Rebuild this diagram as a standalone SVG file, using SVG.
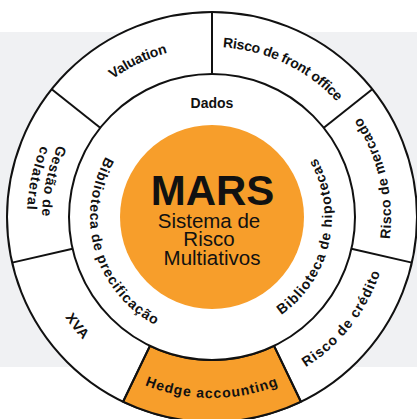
<svg xmlns="http://www.w3.org/2000/svg" xmlns:xlink="http://www.w3.org/1999/xlink" width="417" height="419" viewBox="0 0 417 419">
  <style>
    .ring { fill: #ffffff; stroke: #111111; stroke-width: 2; }
    .sep { stroke: #111111; stroke-width: 2; fill: none; }
    .lbl { font-family: "Liberation Sans", Arial, sans-serif; font-weight: bold; font-size: 14px; fill: #111111; }
    .sub { font-family: "Liberation Sans", Arial, sans-serif; font-size: 20.5px; fill: #111111; text-anchor: middle; }
    .orange { fill: #f79e2b; }
  </style>
  <defs>
    <path id="pValuation" d="M 47.41 174.44 A 170 170 0 0 1 282.50 62.31"/>
    <path id="pFront" d="M 141.23 62.43 A 170 170 0 0 1 376.51 174.15"/>
    <path id="pMercado" d="M 355.89 323.47 A 179 179 0 0 0 291.87 56.81"/>
    <path id="pCredito" d="M 218.18 393.89 A 177 177 0 0 0 385.13 180.20"/>
    <path id="pHedge" d="M 73.35 333.34 A 181 181 0 0 0 350.65 333.34"/>
    <path id="pXVA" d="M 34.03 213.89 A 178 178 0 0 0 178.04 391.73"/>
    <path id="pGestao" d="M 108.75 81.95 A 170 170 0 0 0 61.07 295.23"/>
    <path id="pColateral" d="M 99.12 70.43 A 185 185 0 0 0 48.05 302.71"/>
    <path id="pPrecif" d="M 157.56 107.82 A 122 122 0 0 0 225.81 338.22"/>
    <path id="pHipot" d="M 206.97 336.89 A 120 120 0 0 0 257.73 106.05"/>
  </defs>

  <rect x="0" y="32" width="417" height="335" fill="#f0f1f3"/>

  <circle class="ring" cx="212" cy="217" r="205"/>

  <g id="hedge-accounting">
    <path class="orange" stroke="#111111" stroke-width="2" d="M 300.95 401.70 A 205 205 0 0 1 123.05 401.70 L 149.96 345.84 A 143 143 0 0 0 274.04 345.84 Z"/>
    <text class="lbl"><textPath href="#pHedge" xlink:href="#pHedge" startOffset="50%" text-anchor="middle" letter-spacing="1">Hedge accounting</textPath></text>
  </g>

  <g id="separators">
    <line class="sep" x1="212" y1="74" x2="212" y2="12"/>
    <line class="sep" x1="323.80" y1="127.84" x2="372.28" y2="89.18"/>
    <line class="sep" x1="351.41" y1="248.82" x2="411.86" y2="262.62"/>
    <line class="sep" x1="274.04" y1="345.84" x2="300.95" y2="401.70"/>
    <line class="sep" x1="149.96" y1="345.84" x2="123.05" y2="401.70"/>
    <line class="sep" x1="72.59" y1="248.82" x2="12.14" y2="262.62"/>
    <line class="sep" x1="100.20" y1="127.84" x2="51.72" y2="89.18"/>
  </g>

  <circle class="ring" cx="212" cy="217" r="143"/>

  <g id="valuation">
    <text class="lbl"><textPath href="#pValuation" xlink:href="#pValuation" startOffset="50%" text-anchor="middle" letter-spacing="-0.2">Valuation</textPath></text>
  </g>
  <g id="risco-front-office">
    <text class="lbl"><textPath href="#pFront" xlink:href="#pFront" startOffset="50%" text-anchor="middle" letter-spacing="-0.3">Risco de front office</textPath></text>
  </g>
  <g id="risco-mercado">
    <text class="lbl"><textPath href="#pMercado" xlink:href="#pMercado" startOffset="50%" text-anchor="middle" letter-spacing="0.5">Risco de mercado</textPath></text>
  </g>
  <g id="risco-credito">
    <text class="lbl"><textPath href="#pCredito" xlink:href="#pCredito" startOffset="50%" text-anchor="middle" letter-spacing="0.9">Risco de crédito</textPath></text>
  </g>
  <g id="xva">
    <text class="lbl"><textPath href="#pXVA" xlink:href="#pXVA" startOffset="50%" text-anchor="middle" letter-spacing="0.5">XVA</textPath></text>
  </g>
  <g id="gestao-colateral">
    <text class="lbl"><textPath href="#pGestao" xlink:href="#pGestao" startOffset="50%" text-anchor="middle" letter-spacing="0.7">Gestão de</textPath></text>
    <text class="lbl"><textPath href="#pColateral" xlink:href="#pColateral" startOffset="50%" text-anchor="middle" letter-spacing="1">colateral</textPath></text>
  </g>

  <g id="dados">
    <text class="lbl" x="212" y="107.5" text-anchor="middle" font-size="14">Dados</text>
  </g>
  <g id="biblioteca-precificacao">
    <text class="lbl"><textPath href="#pPrecif" xlink:href="#pPrecif" startOffset="50%" text-anchor="middle" letter-spacing="0.9">Biblioteca de precificação</textPath></text>
  </g>
  <g id="biblioteca-hipotecas">
    <text class="lbl"><textPath href="#pHipot" xlink:href="#pHipot" startOffset="50%" text-anchor="middle" letter-spacing="0.9">Biblioteca de hipotecas</textPath></text>
  </g>

  <g id="mars">
    <circle class="orange" cx="212" cy="217" r="92"/>
    <text x="212.5" y="204.5" text-anchor="middle" font-family="'Liberation Sans', Arial, sans-serif" font-weight="bold" font-size="42" fill="#111111">MARS</text>
    <text class="sub" x="209" y="227.5">Sistema de</text>
    <text class="sub" x="209" y="245.8">Risco</text>
    <text class="sub" x="212" y="264.5">Multiativos</text>
  </g>
</svg>
